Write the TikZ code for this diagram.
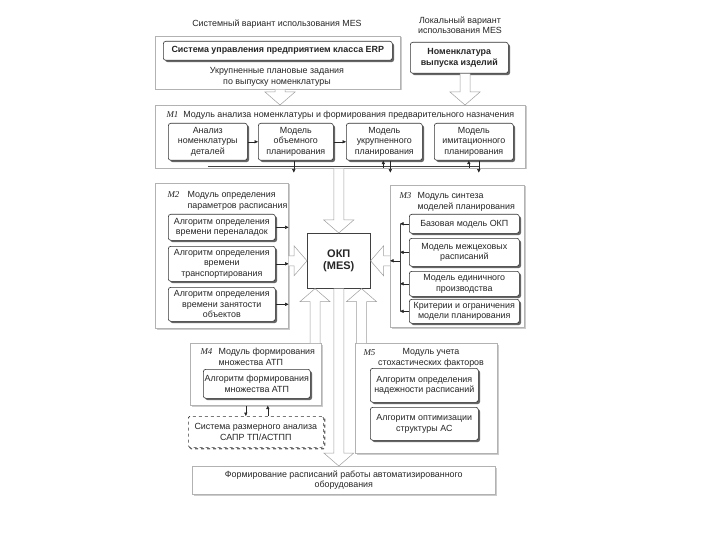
\documentclass[tikz,border=0pt]{standalone}
\usepackage{fontspec}
\setmainfont{Liberation Sans}
\newfontfamily\modfont{Liberation Serif}
\usetikzlibrary{arrows.meta,calc,shadows}
\newcommand\diagfont{\fontsize{8.9pt}{10.5pt}\selectfont}

\begin{document}
\begin{tikzpicture}
[x=1pt,y=-1pt,
  every node/.style={font=\diagfont, text=black!85},
  framedecorate/.style={draw=gray!60, fill=white, line width=0.6pt, anchor=north west,
    inner sep=0pt, drop shadow={shadow xshift=1.2pt, shadow yshift=-1.2pt, fill=gray!40, opacity=1}},
  boxdecorate/.style={draw=black!80, fill=white, line width=0.6pt, rounded corners=2.5pt,
    anchor=north west, align=center, inner sep=1pt,
    drop shadow={shadow xshift=1.8pt, shadow yshift=-1.8pt, fill=black!60, opacity=1}},
  dashdecorate/.style={draw=black!80, dashed, fill=white, line width=0.6pt, anchor=north west,
    align=center, inner sep=1pt, rounded corners=1.5pt,
    drop shadow={shadow xshift=1.5pt, shadow yshift=-1.5pt, fill=none, draw=black!60,
      dashed, line width=1.2pt, opacity=1}},
  linedecorate/.style={-{Triangle[length=3.5pt,width=3.2pt]}, line width=0.5pt, black!85},
  busdecorate/.style={line width=0.5pt, black!75},
  bigdecorate/.style={draw=gray!75, fill=white, line width=0.5pt,
    to path={let \p1=($(\tikztotarget)!13pt!(\tikztostart)$) in
      ($(\tikztostart)!5pt!90:(\tikztotarget)$) -- ($(\p1)!5pt!90:(\tikztotarget)$)
      -- ($(\p1)!15pt!90:(\tikztotarget)$) -- (\tikztotarget)
      -- ($(\p1)!15pt!-90:(\tikztotarget)$) -- ($(\p1)!5pt!-90:(\tikztotarget)$)
      -- ($(\tikztostart)!5pt!-90:(\tikztotarget)$)}}]
\fill[white] (0,0) rectangle (720,540);
%% top part
\node (systitle) at (277,24) {Системный вариант использования MES};
\node[align=center] (loctitle) at (460,25) {Локальный вариант\\использования MES};
\node[framedecorate, minimum width=245pt, minimum height=53pt] (erpframe) at (155,36) {};
\node[boxdecorate, minimum width=229pt, minimum height=19pt, font=\diagfont\bfseries]
  (erp) at (163,41) {Система управления предприятием класса ERP};
\node[align=center] (erptask) at (277,77) {Укрупненные плановые задания\\по выпуску номенклатуры};
\node[boxdecorate, minimum width=98pt, minimum height=31pt, font=\diagfont\bfseries]
  (nomen) at (410,42) {Номенклатура\\выпуска изделий};
%% frames of the modules
\node[framedecorate, minimum width=370pt, minimum height=63pt] (m1frame) at (155,105) {};
\node[framedecorate, minimum width=133pt, minimum height=145pt] (m2frame) at (155,183) {};
\node[framedecorate, minimum width=134pt, minimum height=142pt] (m3frame) at (390,185) {};
\node[framedecorate, minimum width=131pt, minimum height=62pt] (m4frame) at (190,343) {};
\node[framedecorate, minimum width=142pt, minimum height=110pt] (m5frame) at (355,343) {};
\node[framedecorate, minimum width=303pt, minimum height=28pt, align=center] (sched) at (192,466)
  {Формирование расписаний работы автоматизированного\\оборудования};
%% module M1
\node[anchor=west] (m1title) at (163,115)
  {{\modfont\itshape M1}\hspace{5pt}Модуль анализа номенклатуры и формирования предварительного назначения};
\foreach \nodename/\x/\w/\txt in {
  anal/168/79/{Анализ\\номенклатуры\\деталей},
  volume/258/75/{Модель\\объемного\\планирования},
  aggr/346/76/{Модель\\укрупненного\\планирования},
  imit/434/79/{Модель\\имитационного\\планирования}}
{
  \node[boxdecorate, minimum width=\w pt, minimum height=37pt] (\nodename) at (\x,123) {\txt};
}
\draw[linedecorate] (anal) -- (volume);
\draw[linedecorate] (volume) -- (aggr);
\draw[busdecorate] ([yshift=-6pt]anal.south) -- ([xshift=5pt,yshift=-6pt]imit.south);
\draw[linedecorate] ([xshift=-2pt]volume.south) -- ++(0,12);
\draw[linedecorate] ([xshift=6pt]aggr.south) -- ++(0,12);
\draw[linedecorate] ([xshift=5pt]imit.south) -- ++(0,12);
\draw[linedecorate] ([xshift=-1pt,yshift=-7pt]aggr.south) -- ([xshift=-1pt]aggr.south);
\draw[linedecorate] ([xshift=-5pt,yshift=-7pt]imit.south) -- ([xshift=-5pt]imit.south);
%% module M2
\node[anchor=west] (m2label) at (164,195) {\modfont\itshape M2};
\node[anchor=north west, align=left] (m2title) at (184,188) {Модуль определения\\параметров расписания};
\foreach \nodename/\y/\h/\txt in {
  m2a/214/26/{Алгоритм определения\\времени переналадок},
  m2b/246/35/{Алгоритм определения\\времени\\транспортирования},
  m2c/287/34/{Алгоритм определения\\времени занятости\\объектов}}
{
  \node[boxdecorate, minimum width=107pt, minimum height=\h pt] (\nodename) at (168,\y) {\txt};
  \draw[linedecorate] (\nodename.east) -- (\nodename.east -| m2frame.east);
}
%% module M3
\node[anchor=west] (m3label) at (396,196) {\modfont\itshape M3};
\node[anchor=north west, align=left] (m3title) at (414,189) {Модуль синтеза\\моделей планирования};
\coordinate (m3bus) at (400,0);
\foreach \nodename/\y/\h/\txt in {
  m3a/214/19/{Базовая модель ОКП},
  m3b/238/28/{Модель межцеховых\\расписаний},
  m3c/271/25/{Модель единичного\\производства},
  m3d/299/24/{Критерии и ограничения\\модели планирования}}
{
  \node[boxdecorate, minimum width=110pt, minimum height=\h pt] (\nodename) at (409,\y) {\txt};
  \draw[linedecorate] (\nodename.west) -- (\nodename.west -| m3bus);
}
\draw[busdecorate] (m3a.west -| m3bus) -- (m3d.west -| m3bus);
%% module M4
\node[anchor=west] (m4label) at (197,352) {\modfont\itshape M4};
\node[anchor=north west, align=left] (m4title) at (215,345) {Модуль формирования\\множества АТП};
\node[boxdecorate, minimum width=107pt, minimum height=29pt] (atp) at (203,369)
  {Алгоритм формирования\\множества АТП};
\node[dashdecorate, minimum width=135pt, minimum height=31pt] (sapr) at (188,416)
  {Система размерного анализа\\САПР ТП/АСТПП};
\draw[linedecorate] ([xshift=-10pt]m4frame.south) -- ([xshift=-10pt]sapr.north);
\draw[linedecorate] ([xshift=12pt]sapr.north) -- ([xshift=12pt]m4frame.south);
%% module M5
\node[anchor=west] (m5label) at (360,353) {\modfont\itshape M5};
\node[align=center] (m5title) at (431,358) {Модуль учета\\стохастических факторов};
\node[boxdecorate, minimum width=108pt, minimum height=34pt] (reliab) at (370,368)
  {Алгоритм определения\\надежности расписаний};
\node[boxdecorate, minimum width=108pt, minimum height=33pt] (optim) at (370,407)
  {Алгоритм оптимизации\\структуры АС};
%% centre
\node[draw=black!75, fill=white, line width=0.6pt, minimum width=63pt, minimum height=55pt,
  anchor=north west, align=center, font=\fontsize{11pt}{13pt}\selectfont\bfseries] (okp) at (307,233)
  {ОКП\\(MES)};
\draw[linedecorate] (okp -| m3bus) -- (okp -| m3frame.west);
%% big arrows
\coordinate (xerp) at (280,0);
\coordinate (xnomen) at (465,0);
\coordinate (xfour) at (315,0);
\coordinate (xfive) at (361.5,0);
\draw[bigdecorate] (erpframe.south -| xerp) to (m1frame.north -| xerp);
\draw[bigdecorate] (nomen.south -| xnomen) to (m1frame.north -| xnomen);
\draw[bigdecorate] (m1frame.south -| okp) to (okp.north);
\draw[bigdecorate] (m2frame.east |- okp) to (okp.west);
\draw[bigdecorate] (m3frame.west |- okp) to (okp.east);
\draw[bigdecorate] (m4frame.north -| xfour) to (okp.south -| xfour);
\draw[bigdecorate] (m5frame.north -| xfive) to (okp.south -| xfive);
\draw[bigdecorate] (okp.south) to (okp.south |- sched.north);
\end{tikzpicture}
\end{document}
